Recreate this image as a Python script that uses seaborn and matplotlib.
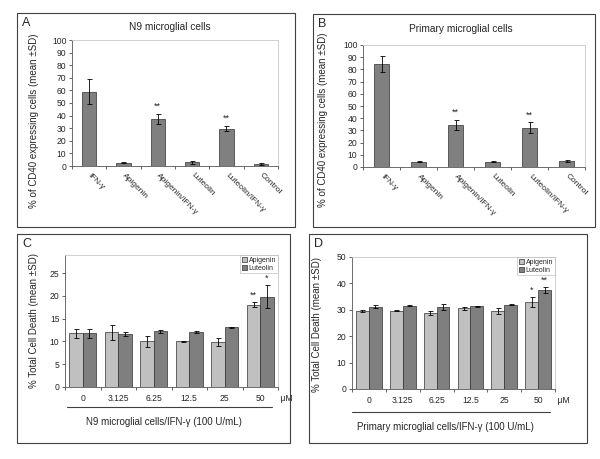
import matplotlib
matplotlib.use("Agg")
import matplotlib.pyplot as plt
import seaborn as sns
import pandas as pd
from matplotlib.patches import Rectangle
from matplotlib.lines import Line2D

# --- data ---
treatments = ["IFN-γ", "Apigenin", "Apigenin/IFN-γ", "Luteolin", "Luteolin/IFN-γ", "Control"]
n9_cd40 = [59, 2.5, 37, 3, 29.5, 1.5]
n9_cd40_sd = [10, 0.5, 4, 1.3, 2, 0.8]
prim_cd40 = [84.5, 4.5, 34.5, 4.3, 32, 4.8]
prim_cd40_sd = [6.5, 0.5, 4, 0.5, 4.5, 0.8]
cd40_sig = ["", "", "**", "", "**", ""]

doses = ["0", "3.125", "6.25", "12.5", "25", "50"]
n9_api = [11.8, 12.0, 10.0, 10.0, 9.8, 18.1]
n9_api_sd = [1.0, 1.7, 1.3, 0.2, 0.9, 0.5]
n9_lut = [11.8, 11.6, 12.2, 12.0, 13.1, 19.8]
n9_lut_sd = [1.0, 0.4, 0.4, 0.2, 0.05, 2.5]
n9_api_sig = ["", "", "", "", "", "**"]
n9_lut_sig = ["", "", "", "", "", "*"]
prim_api = [29.5, 29.7, 28.9, 30.5, 29.5, 33.0]
prim_api_sd = [0.4, 0.1, 0.7, 0.6, 1.0, 1.8]
prim_lut = [31.1, 31.6, 31.0, 31.4, 31.9, 37.4]
prim_lut_sd = [0.6, 0.2, 1.2, 0.2, 0.2, 1.2]
prim_api_sig = ["", "", "", "", "", "*"]
prim_lut_sig = ["", "", "", "", "", "**"]

sns.set_style("white")
plt.rcParams["font.family"] = ["Liberation Sans", "DejaVu Sans"]

W, H = 600, 459
fig = plt.figure(figsize=(6, 4.59), dpi=100)


def fx(x):
    return x / W


def fy(y):
    return 1 - y / H


def px_rect(x0, y0, x1, y1):
    # pixel box (top-left origin) -> figure fraction rect
    return [fx(x0), fy(y1), (x1 - x0) / W, (y1 - y0) / H]


def box(x0, y0, x1, y1, letter):
    fig.add_artist(Rectangle((fx(x0), fy(y1)), fx(x1) - fx(x0), (y1 - y0) / H,
                             transform=fig.transFigure, fill=False, lw=0.8, ec="#404040"))
    fig.text(fx(x0 + 5), fy(y0 + 4), letter, fontsize=9, va="top", ha="left")


def style_axes(ax):
    for s in ["top", "right"]:
        ax.spines[s].set_color("#c8c8c8")
        ax.spines[s].set_linewidth(0.6)
    for s in ["left", "bottom"]:
        ax.spines[s].set_color("#555555")
        ax.spines[s].set_linewidth(0.6)
    ax.tick_params(axis="y", labelsize=6.2, length=2.5, width=0.5, direction="out", left=True, pad=1.5)
    ax.set_xticks([i - 0.5 for i in range(7)], minor=True)
    ax.tick_params(axis="x", which="minor", length=2.5, width=0.5, direction="out", bottom=True)
    ax.tick_params(axis="x", which="major", length=0)


def set_ylabel_px(ax, text, size, x_px, y_px, rect):
    ax.set_ylabel(text, fontsize=size)
    x0, y0, x1, y1 = rect
    ax.yaxis.set_label_coords((x_px - x0) / (x1 - x0), (y1 - y_px) / (y1 - y0))


def cd40_panel(rect, vals, sd, title, title_xy, ylab_xy):
    ax = fig.add_axes(px_rect(*rect))
    sns.barplot(x=treatments, y=vals, order=treatments, color="#808080", saturation=1,
                width=0.42, edgecolor="#303030", linewidth=0.5, errorbar=None, ax=ax)
    bars = ax.containers[0]
    for b, e, s in zip(bars, sd, cd40_sig):
        xc = b.get_x() + b.get_width() / 2
        top = b.get_height()
        ax.errorbar(xc, top, yerr=e, color="black", lw=0.6, capsize=1.8, capthick=0.6)
        if s:
            ax.text(xc, top + e + 2.5, s, ha="center", va="bottom", fontsize=6.5)
    ax.set_ylim(0, 100)
    ax.set_yticks(range(0, 101, 10))
    ax.set_xlim(-0.5, 5.5)
    ax.set_xticks(range(6))
    ax.set_xticklabels(treatments, rotation=-45, ha="left", va="center",
                       rotation_mode="anchor", fontsize=6)
    ax.tick_params(axis="x", which="major", pad=6)
    style_axes(ax)
    set_ylabel_px(ax, "% of CD40 expressing cells (mean ±SD)", 7, ylab_xy[0], ylab_xy[1], rect)
    fig.text(fx(title_xy[0]), fy(title_xy[1]), title, ha="center", va="center", fontsize=7.3)
    return ax


def death_panel(rect, api, api_sd, lut, lut_sd, api_sig, lut_sig, ymax, ytick_max, xlabel,
                line_y, line_x, xlabel_y, ylab_xy):
    ax = fig.add_axes(px_rect(*rect))
    df = pd.DataFrame({
        "dose": doses * 2,
        "val": api + lut,
        "drug": ["Apigenin"] * len(doses) + ["Luteolin"] * len(doses),
    })
    sns.barplot(data=df, x="dose", y="val", hue="drug", order=doses,
                hue_order=["Apigenin", "Luteolin"],
                palette={"Apigenin": "#c0c0c0", "Luteolin": "#7f7f7f"}, saturation=1,
                width=0.76, edgecolor="#303030", linewidth=0.5, errorbar=None, ax=ax)
    for cont, sds, sigs in zip(ax.containers, [api_sd, lut_sd], [api_sig, lut_sig]):
        for b, e, s in zip(cont, sds, sigs):
            xc = b.get_x() + b.get_width() / 2
            top = b.get_height()
            ax.errorbar(xc, top, yerr=e, color="black", lw=0.6, capsize=1.8, capthick=0.6)
            if s:
                ax.text(xc, top + e + ymax * 0.02, s, ha="center", va="bottom", fontsize=6.5)
    ax.set_ylim(0, ymax)
    step = 5 if ytick_max < 30 else 10
    ax.set_yticks(range(0, ytick_max + 1, step))
    ax.set_xlim(-0.5, 5.5)
    ax.set_xlabel("")
    ax.tick_params(axis="x", which="major", labelsize=6.2, pad=5)
    style_axes(ax)
    set_ylabel_px(ax, "% Total Cell Death (mean ±SD)", 7, ylab_xy[0], ylab_xy[1], rect)
    leg = ax.legend(loc="upper right", fontsize=5, frameon=True, fancybox=False,
                    borderpad=0.25, handlelength=0.7, handleheight=0.7, handletextpad=0.3,
                    labelspacing=0.12, borderaxespad=0.0)
    leg.get_frame().set_edgecolor("#b0b0b0")
    leg.get_frame().set_linewidth(0.5)
    # micro-molar unit, underline and label under the axis
    ax.text(1.0, -0.085, " μM", transform=ax.transAxes, ha="left", va="center", fontsize=6.2)
    fig.add_artist(Line2D([fx(line_x[0]), fx(line_x[1])], [fy(line_y), fy(line_y)],
                          transform=fig.transFigure, color="#404040", lw=0.8))
    fig.text(fx((line_x[0] + line_x[1]) / 2 - 6), fy(xlabel_y), xlabel,
             ha="center", va="center", fontsize=7)
    return ax


# panel boxes
box(17, 13, 295, 227, "A")
box(313, 14, 595, 227, "B")
box(17, 234, 290, 443, "C")
box(309, 234, 587, 443, "D")

cd40_panel((72, 40, 278, 166), n9_cd40, n9_cd40_sd,
           "N9 microglial cells", (170, 27), (39, 121))
cd40_panel((363, 45, 585, 167), prim_cd40, prim_cd40_sd,
           "Primary microglial cells", (461, 29), (328, 120))

death_panel((65, 255, 278, 387), n9_api, n9_api_sd,
            n9_lut, n9_lut_sd, n9_api_sig, n9_lut_sig, 29, 25,
            "N9 microglial cells/IFN-γ (100 U/mL)", 407, (67, 272), 422, (39, 321))
death_panel((352, 257, 555, 389), prim_api, prim_api_sd,
            prim_lut, prim_lut_sd, prim_api_sig, prim_lut_sig, 50, 50,
            "Primary microglial cells/IFN-γ (100 U/mL)", 412, (352, 550), 427, (322, 324))

fig.savefig("out.png", dpi=100, facecolor="white")
